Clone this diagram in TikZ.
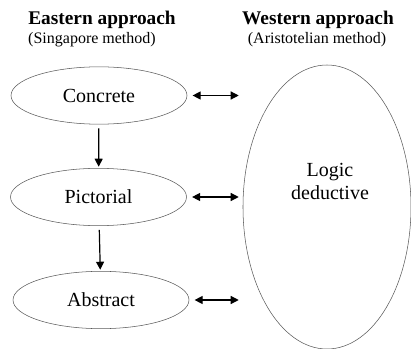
\documentclass[tikz,border=0pt]{standalone}
\usepackage{fontspec}
\setmainfont{Liberation Serif}
\usetikzlibrary{positioning, arrows.meta, shapes.geometric}

\begin{document}
\begin{tikzpicture}[x=0.75pt,y=-0.75pt,oval/.style={draw=black!65,ellipse,inner sep=0pt,minimum width=132pt,minimum height=43pt,font=\fontsize{15}{17}\selectfont},bigoval/.style={draw=black!65,ellipse,inner sep=0pt,minimum width=126pt,minimum height=213pt},head/.style={font=\fontsize{14.5}{17}\selectfont\bfseries},subhead/.style={font=\fontsize{12}{14}\selectfont},down/.style={line width=0.9pt,-{Triangle[length=6pt,width=6pt]},shorten <=3pt,shorten >=1pt},both/.style={line width=0.9pt,{Triangle[length=6pt,width=6pt]}-{Triangle[length=6pt,width=6pt]},shorten <=4pt,shorten >=3pt}]
\useasboundingbox (0,0) rectangle (411,349);
% headings
\node[head] (east) at (102,20) {Eastern approach};
\node[subhead] (eastsub) at (92,40) {(Singapore method)};
\node[head] (west) at (318,20) {Western approach};
\node[subhead] (westsub) at (317,40) {(Aristotelian method)};
% the three stages
\node[oval] (concrete) at (99,95.5) {Concrete};
\node[oval] (pictorial) at (98.5,197) {Pictorial};
\node[oval] (abstract) at (101,300) {Abstract};
\draw[down] (concrete) -- (pictorial);
\draw[down] (pictorial) -- (abstract);
% logic side
\node[bigoval] (logic) at (327,207) {};
\node[align=center,font=\fontsize{15}{17.25}\selectfont] (logictext) at (330,181) {Logic\\deductive};
\draw[both] (concrete.east) -- (concrete.east -| logic.west);
\draw[both] (pictorial.east) -- (pictorial.east -| logic.west);
\draw[both] (abstract.east) -- (abstract.east -| logic.west);
\end{tikzpicture}
\end{document}
